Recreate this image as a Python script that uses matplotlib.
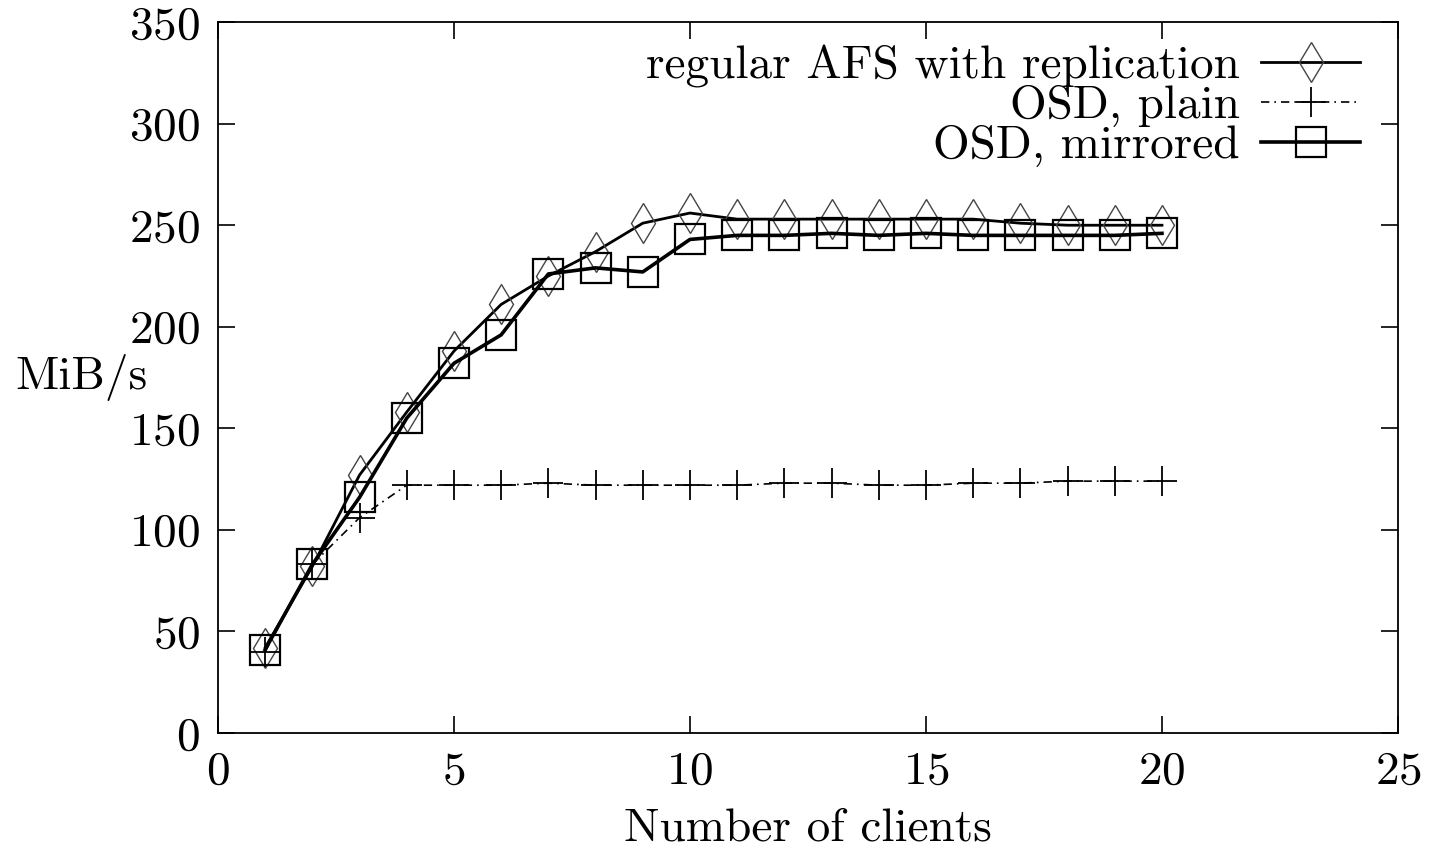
import matplotlib
matplotlib.use("Agg")
import matplotlib.pyplot as plt

plt.rcParams['font.family'] = ['cmr10', 'DejaVu Serif']
plt.rcParams['axes.formatter.use_mathtext'] = True

clients = list(range(1, 21))
afs_repl = [42, 82, 127, 158, 188, 211, 225, 237, 251, 256, 253, 253, 253, 253, 253, 253, 251, 250, 250, 250]
osd_plain = [40, 83, 106, 122, 122, 122, 123, 122, 122, 122, 122, 123, 123, 122, 122, 123, 123, 124, 124, 124]
osd_mirror = [41, 83, 116, 155, 182, 196, 226, 229, 227, 243, 245, 245, 246, 245, 246, 245, 245, 245, 245, 246]

labels = ["regular AFS with replication", "OSD, plain", "OSD, mirrored"]
xticks = [0, 5, 10, 15, 20, 25]
yticks = [0, 50, 100, 150, 200, 250, 300, 350]

fig = plt.figure(figsize=(14.30, 8.51), dpi=100)
ax = fig.add_axes([0.1524, 0.1387, 0.8252, 0.8353])

ax.plot(clients, afs_repl, color='black', lw=2.0, marker='d', ms=20,
        mfc='none', mec='#444444', mew=1.0, label=labels[0])
ax.plot(clients, osd_plain, color='black', lw=1.2, ls=(0, (5, 3, 1, 3)), marker='+', ms=22,
        mec='black', mew=1.3, label=labels[1])
ax.plot(clients, osd_mirror, color='black', lw=2.6, marker='s', ms=21,
        mfc='none', mec='black', mew=1.6, label=labels[2])

ax.set_xlim(0, 25)
ax.set_ylim(0, 350)
ax.set_xticks(xticks)
ax.set_yticks(yticks)
ax.tick_params(direction='in', length=12, width=1.2, top=True, right=True,
               labelsize=34, pad=13)
for s in ax.spines.values():
    s.set_linewidth(1.3)

ax.set_xlabel("Number of clients", fontsize=34, labelpad=11)
ax.set_ylabel("MiB/s", fontsize=34, rotation=0, ha='right', va='center')
ax.yaxis.set_label_coords(-0.06, 0.5)

leg = ax.legend(loc='upper right', markerfirst=False, frameon=False, fontsize=34,
                handlelength=2.1, handletextpad=0.45, labelspacing=-0.05,
                borderaxespad=0.0, bbox_to_anchor=(0.984, 0.995))

fig.savefig("out.png", dpi=100)
